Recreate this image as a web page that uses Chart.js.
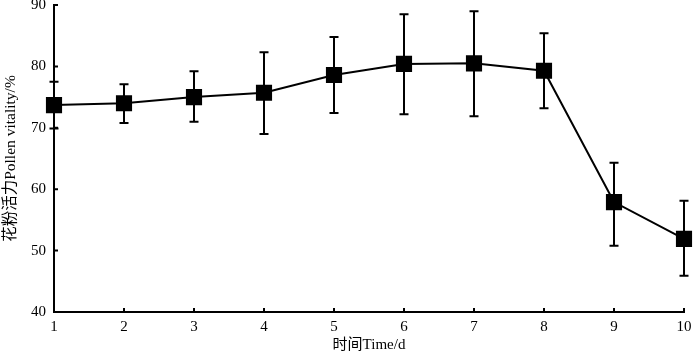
<!DOCTYPE html>
<html>
<head>
<meta charset="utf-8">
<script src="https://cdn.jsdelivr.net/npm/chart.js@4.4.1/dist/chart.umd.min.js"></script>
<style>
  html, body { margin: 0; padding: 0; background: #fff; }
  #wrap { width: 700px; height: 354px; position: relative; }
</style>
</head>
<body>
<div id="wrap"><canvas id="c"></canvas></div>
<script>
// data
const days = [1, 2, 3, 4, 5, 6, 7, 8, 9, 10];
const vitality = [73.7, 74.0, 75.0, 75.7, 78.6, 80.4, 80.5, 79.3, 57.9, 51.9];
const errUp = [3.8, 3.1, 4.2, 6.6, 6.2, 8.1, 8.5, 6.1, 6.4, 6.2];
const errDown = [3.8, 3.2, 4.0, 6.7, 6.2, 8.2, 8.6, 6.1, 7.1, 6.0];
const yTicks = [40, 50, 60, 70, 80, 90];

const FONT = '"Liberation Serif", "Noto Sans CJK SC", serif';

// error bars + inward tick marks, drawn through the chart's scales
const errorBars = {
  id: 'errorBars',
  beforeDatasetsDraw(chart) {
    const { ctx, scales: { x, y } } = chart;
    ctx.save();
    ctx.strokeStyle = '#000';
    ctx.lineWidth = 2;
    days.forEach((d, i) => {
      const px = x.getPixelForValue(d);
      const top = y.getPixelForValue(vitality[i] + errUp[i]);
      const bot = y.getPixelForValue(vitality[i] - errDown[i]);
      ctx.beginPath();
      ctx.moveTo(px, top); ctx.lineTo(px, bot);
      ctx.moveTo(px - 4.5, top); ctx.lineTo(px + 4.5, top);
      ctx.moveTo(px - 4.5, bot); ctx.lineTo(px + 4.5, bot);
      ctx.stroke();
    });
    ctx.restore();
  },
  afterDraw(chart) {
    const { ctx, scales: { x, y }, chartArea } = chart;
    ctx.save();
    ctx.strokeStyle = '#000';
    ctx.lineWidth = 2;
    ctx.beginPath();
    yTicks.forEach(v => {
      const py = y.getPixelForValue(v);
      ctx.moveTo(chartArea.left, py); ctx.lineTo(chartArea.left + 4, py);
    });
    days.forEach(d => {
      const px = x.getPixelForValue(d);
      ctx.moveTo(px, chartArea.bottom); ctx.lineTo(px, chartArea.bottom - 4);
    });
    ctx.stroke();
    ctx.restore();
  }
};

new Chart(document.getElementById('c'), {
  type: 'line',
  data: {
    datasets: [{
      data: days.map((d, i) => ({ x: d, y: vitality[i] })),
      borderColor: '#000',
      backgroundColor: '#000',
      borderWidth: 2,
      pointStyle: 'rect',
      pointRadius: 10,
      pointHoverRadius: 10,
      tension: 0,
      clip: false,
    }],
  },
  options: {
    responsive: true,
    maintainAspectRatio: false,
    animation: false,
    layout: { autoPadding: false, padding: { top: 5, right: 16, left: 0, bottom: 0 } },
    plugins: { legend: { display: false }, tooltip: { enabled: false } },
    scales: {
      x: {
        type: 'linear',
        min: 1,
        max: 10,
        afterFit(scale) { scale.height = 42; },
        afterBuildTicks(scale) { scale.ticks = days.map(v => ({ value: v })); },
        grid: { display: false, drawTicks: false },
        border: { color: '#000', width: 2 },
        ticks: { color: '#000', font: { family: FONT, size: 15 }, padding: 6, maxRotation: 0 },
        title: {
          display: true,
          text: '时间Time/d',
          color: '#000',
          font: { family: FONT, size: 15 },
          padding: { top: 0, bottom: 0 },
        },
      },
      y: {
        min: 40,
        max: 90,
        afterFit(scale) { scale.width = 54; scale.paddingTop = 0; scale.paddingBottom = 0; },
        afterBuildTicks(scale) { scale.ticks = yTicks.map(v => ({ value: v })); },
        grid: { display: false, drawTicks: false },
        border: { color: '#000', width: 2 },
        ticks: { color: '#000', font: { family: FONT, size: 15 }, padding: 8 },
        title: {
          display: true,
          text: '花粉活力Pollen vitality/%',
          color: '#000',
          font: { family: FONT, size: 15.5 },
          padding: { top: 2, bottom: 0 },
        },
      },
    },
  },
  plugins: [errorBars],
});
</script>
</body>
</html>
